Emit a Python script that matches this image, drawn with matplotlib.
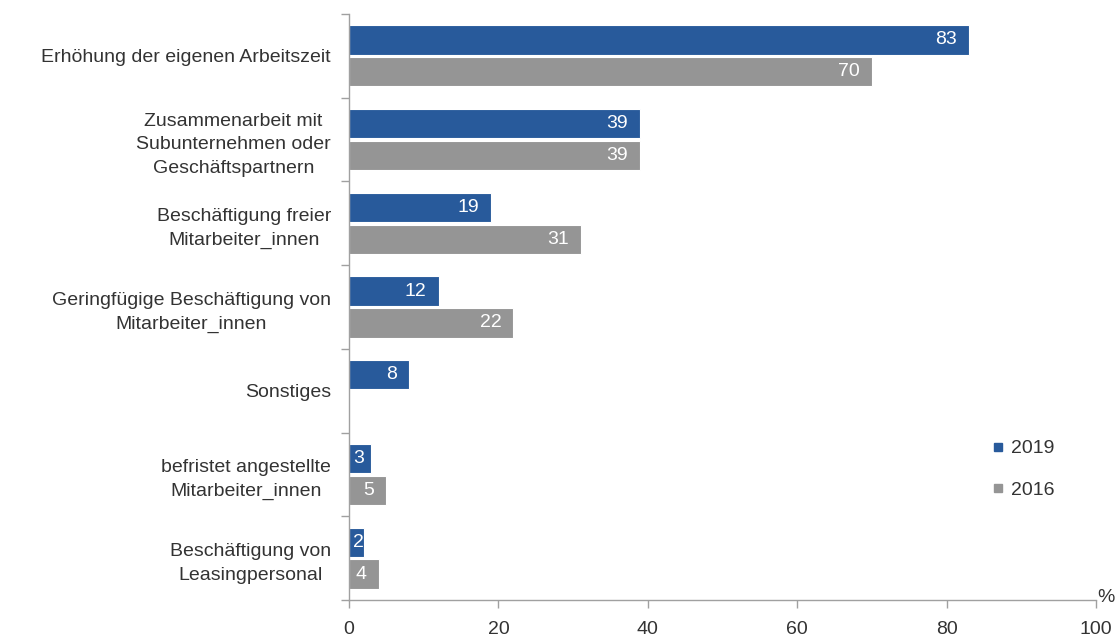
import matplotlib
matplotlib.use("Agg")
import matplotlib.pyplot as plt
from matplotlib.lines import Line2D

plt.rcParams['font.family'] = ['Liberation Sans', 'DejaVu Sans']

categories = [
    "Erhöhung der eigenen Arbeitszeit",
    "Zusammenarbeit mit\nSubunternehmen oder\nGeschäftspartnern",
    "Beschäftigung freier\nMitarbeiter_innen",
    "Geringfügige Beschäftigung von\nMitarbeiter_innen",
    "Sonstiges",
    "befristet angestellte\nMitarbeiter_innen",
    "Beschäftigung von\nLeasingpersonal",
]
values_2019 = [83, 39, 19, 12, 8, 3, 2]
values_2016 = [70, 39, 31, 22, None, 5, 4]
series_names = ["2019", "2016"]
x_ticks = [0, 20, 40, 60, 80, 100]

BLUE = "#285A9B"
GRAY = "#959595"
TEXT = "#333333"
AXIS = "#A0A0A0"
FS = 14

fig = plt.figure(figsize=(11.2, 6.37), dpi=100)
ax = fig.add_axes([349 / 1120, 1 - 600 / 637, (1096 - 349) / 1120, (600 - 14) / 637])

bar_h = 0.35
off = 0.19
n = len(categories)
centers = [i + 0.5 for i in range(n)]

for vals, color, sign in ((values_2019, BLUE, -1), (values_2016, GRAY, 1)):
    for c, v in zip(centers, vals):
        if v is None:
            continue
        y = c + sign * off
        ax.barh(y, v, height=bar_h, color=color, edgecolor="white", linewidth=0.8)
        if v > 3:
            ax.annotate(str(v), (v, y), xytext=(-12, 0), textcoords="offset pixels",
                        ha="right", va="center", color="white", fontsize=FS)
        else:
            ax.annotate(str(v), (0, y), xytext=(4, 0), textcoords="offset pixels",
                        ha="left", va="center", color="white", fontsize=FS)

ax.set_xlim(0, 100)
ax.set_ylim(n, 0)
ax.set_xticks(x_ticks)
ax.set_xticklabels([str(t) for t in x_ticks])
ax.set_yticks(range(n + 1))
ax.set_yticklabels([])
ax.set_yticks(centers, minor=True)
ax.set_yticklabels(categories, minor=True, multialignment="center", linespacing=1.5)
ax.tick_params(axis="y", which="minor", length=0, pad=13, labelsize=FS, labelcolor=TEXT)
ax.tick_params(axis="y", which="major", length=6, color=AXIS, width=1)
ax.tick_params(axis="x", length=6, color=AXIS, width=1, pad=9, labelsize=FS, labelcolor=TEXT)

for s in ("top", "right"):
    ax.spines[s].set_visible(False)
for s in ("left", "bottom"):
    ax.spines[s].set_color(AXIS)
    ax.spines[s].set_linewidth(1)

ax.annotate("%", (100, 0), xycoords=("data", "axes fraction"), xytext=(10, 3),
            textcoords="offset pixels", ha="center", va="center",
            fontsize=FS, color=TEXT, annotation_clip=False)

handles = [Line2D([], [], linestyle="none", marker="s", markersize=5.5,
                  markerfacecolor=c, markeredgecolor=c) for c in (BLUE, GRAY)]
leg = ax.legend(handles, series_names, loc="upper left",
                bbox_to_anchor=(982 / 1120, 1 - 430 / 637), bbox_transform=fig.transFigure,
                frameon=False, fontsize=FS, handlelength=0.6, handletextpad=0.4,
                labelspacing=1.25, borderpad=0)
for t in leg.get_texts():
    t.set_color(TEXT)

fig.savefig("out.png", dpi=100)
